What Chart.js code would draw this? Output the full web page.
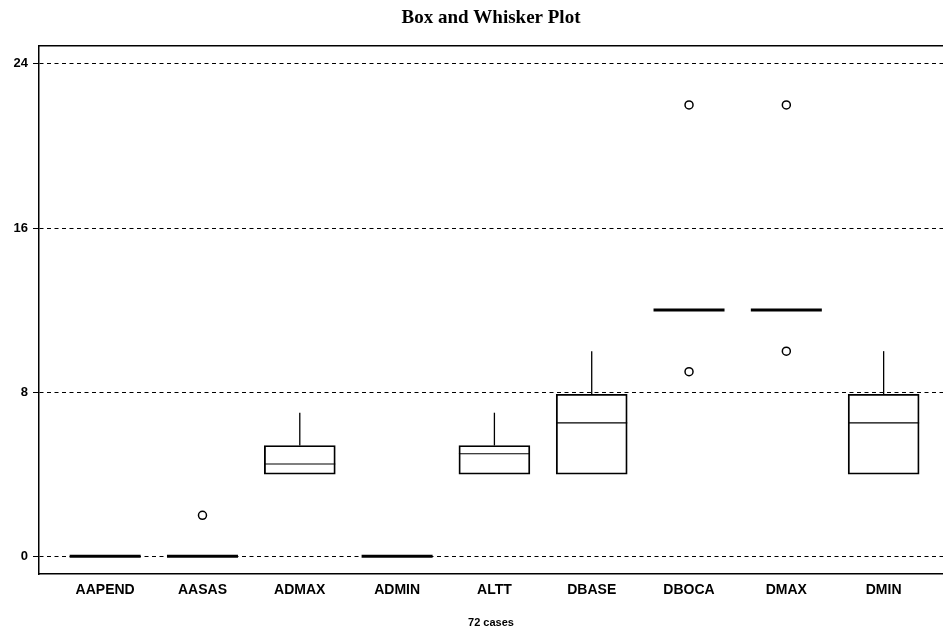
<!DOCTYPE html>
<html>
<head>
<meta charset="utf-8">
<script src="https://cdn.jsdelivr.net/npm/chart.js@4/dist/chart.umd.min.js"></script>
<style>
  body { margin: 0; background: #fff; }
  #wrap { width: 943px; height: 636px; }
</style>
</head>
<body>
<div id="wrap"><canvas id="chart"></canvas></div>
<script>
const categories = ['AAPEND', 'AASAS', 'ADMAX', 'ADMIN', 'ALTT', 'DBASE', 'DBOCA', 'DMAX', 'DMIN'];
const whiskerLow = [0, 0, 4, 0, 4, 4, 12, 12, 4];
const q1 = [0, 0, 4, 0, 4, 4, 12, 12, 4];
const median = [0, 0, 4.5, 0, 5, 6.5, 12, 12, 6.5];
const q3 = [0, 0, 5.4, 0, 5.4, 7.9, 12, 12, 7.9];
const whiskerHigh = [0, 0, 7, 0, 7, 10, 12, 12, 10];
const outlierCat = [1, 6, 6, 7, 7];
const outlierVal = [2, 9, 22, 10, 22];
const yTicks = [0, 8, 16, 24];
const caption = '72 cases';

const X_MIN = -0.68, X_MAX = 8.61;

// whiskers and medians, positioned from the box bars and the y scale
const whiskerPlugin = {
  id: 'whiskers',
  afterDatasetsDraw(chart) {
    const { ctx } = chart;
    const y = chart.scales.y;
    const meta = chart.getDatasetMeta(0);
    ctx.save();
    ctx.strokeStyle = '#000';
    meta.data.forEach((bar, i) => {
      const x = bar.x;
      const half = bar.width / 2;
      ctx.lineWidth = 1.3;
      ctx.beginPath();
      if (whiskerHigh[i] > q3[i]) {
        ctx.moveTo(x, y.getPixelForValue(q3[i]));
        ctx.lineTo(x, y.getPixelForValue(whiskerHigh[i]));
      }
      if (whiskerLow[i] < q1[i]) {
        ctx.moveTo(x, y.getPixelForValue(q1[i]));
        ctx.lineTo(x, y.getPixelForValue(whiskerLow[i]));
      }
      ctx.stroke();
      const my = y.getPixelForValue(median[i]);
      ctx.lineWidth = q1[i] === q3[i] ? 3 : 1.2;
      ctx.beginPath();
      ctx.moveTo(x - half, my);
      ctx.lineTo(x + half, my);
      ctx.stroke();
    });
    ctx.restore();
  },
};

const noPad = s => {
  s.paddingLeft = 0; s.paddingRight = 0;
  s.paddingTop = 0; s.paddingBottom = 0;
};

const ctx = document.getElementById('chart').getContext('2d');
new Chart(ctx, {
  type: 'bar',
  data: {
    datasets: [
      {
        label: 'box',
        data: categories.map((_, i) => ({ x: i, y: [q1[i], q3[i]] })),
        backgroundColor: 'rgba(0,0,0,0)',
        borderColor: '#000',
        borderWidth: 1.2,
        borderSkipped: false,
        barThickness: 71,
      },
      {
        type: 'scatter',
        label: 'outliers',
        data: outlierCat.map((c, i) => ({ x: c, y: outlierVal[i] })),
        pointRadius: 4,
        pointBorderWidth: 1.5,
        borderColor: '#000',
        backgroundColor: '#fff',
      },
    ],
  },
  options: {
    animation: false,
    responsive: true,
    maintainAspectRatio: false,
    layout: { autoPadding: false, padding: { left: 0, right: 0, top: 0, bottom: 0 } },
    plugins: {
      legend: { display: false },
      tooltip: { enabled: false },
      title: {
        display: true,
        fullSize: false,
        text: 'Box and Whisker Plot',
        color: '#000',
        font: { family: 'Liberation Serif', size: 19, weight: 'bold' },
        padding: { top: 7, bottom: 16 },
      },
    },
    scales: {
      x: {
        type: 'linear',
        position: 'bottom',
        offset: false,
        min: X_MIN,
        max: X_MAX,
        afterBuildTicks: s => { s.ticks = categories.map((_, i) => ({ value: i })); },
        afterFit: s => { s.height = 62; noPad(s); },
        ticks: {
          color: '#000',
          padding: 8,
          maxRotation: 0,
          autoSkip: false,
          font: { family: 'Liberation Sans', size: 14, weight: 'bold' },
          callback: v => categories[v],
        },
        grid: { display: false, drawTicks: false },
        border: { display: true, color: '#000', width: 1.5 },
        title: {
          display: true,
          text: caption,
          color: '#000',
          font: { family: 'Liberation Sans', size: 11, weight: 'bold' },
          padding: { top: 0, bottom: 6 },
        },
      },
      x2: {
        type: 'linear',
        position: 'top',
        offset: false,
        min: X_MIN,
        max: X_MAX,
        afterFit: s => { s.height = 0; noPad(s); },
        ticks: { display: false },
        grid: { display: false, drawTicks: false },
        border: { display: true, color: '#000', width: 1.5 },
      },
      y: {
        type: 'linear',
        min: -0.86,
        max: 24.88,
        afterBuildTicks: s => { s.ticks = yTicks.map(v => ({ value: v })); },
        afterFit: s => { s.width = 39; noPad(s); },
        ticks: {
          color: '#000',
          padding: 5,
          font: { family: 'Liberation Sans', size: 13, weight: 'bold' },
        },
        grid: {
          color: '#000',
          lineWidth: 1,
          tickLength: 6,
          tickWidth: 1,
          tickColor: '#000',
        },
        border: { display: true, color: '#000', width: 1.5, dash: [4, 3.5] },
      },
    },
  },
  plugins: [whiskerPlugin],
});
</script>
</body>
</html>
